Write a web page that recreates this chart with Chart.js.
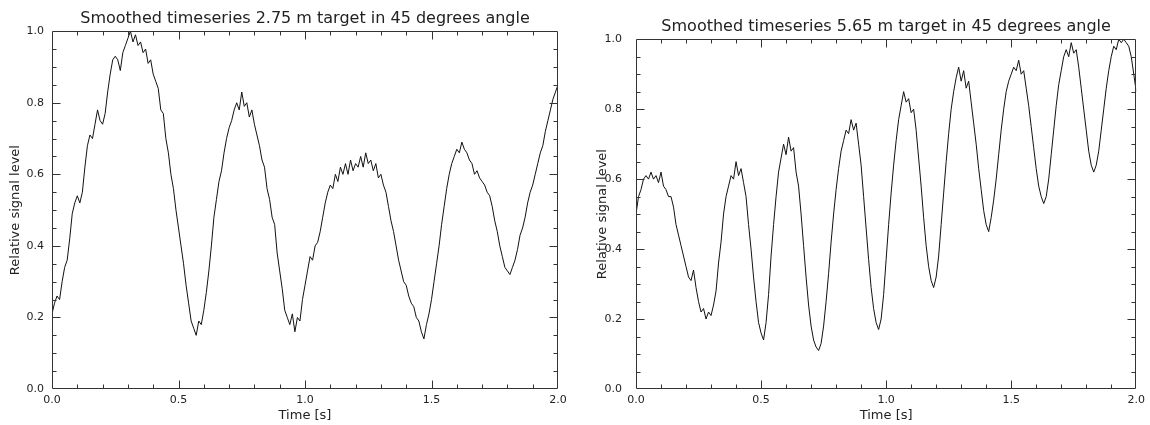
<!DOCTYPE html>
<html>
<head>
<meta charset="utf-8">
<title>Smoothed timeseries</title>
<script src="https://cdn.jsdelivr.net/npm/chart.js@4.4.1/dist/chart.umd.min.js"></script>
<style>
body { margin:0; background:#fff; }
#c1 { position:absolute; left:0; top:0; }
#c2 { position:absolute; left:575px; top:0; }
</style>
</head>
<body>
<canvas id="c1" width="575" height="425"></canvas>
<canvas id="c2" width="575" height="425"></canvas>
<script>
// sample interval of both recordings (s)
var dt = 0.01;
var xTicks = [0.0, 0.5, 1.0, 1.5, 2.0];
var yTicks = [0.0, 0.2, 0.4, 0.6, 0.8, 1.0];

// 2.75 m target
var sinal275 = [
0.21,0.24,0.26,0.25,0.30,0.34,0.36,0.42,0.49,0.52,
0.54,0.52,0.55,0.62,0.68,0.71,0.70,0.74,0.78,0.75,
0.74,0.77,0.83,0.88,0.92,0.93,0.92,0.89,0.94,0.96,
0.98,1.00,0.97,0.99,0.96,0.97,0.94,0.95,0.91,0.92,
0.88,0.86,0.84,0.78,0.77,0.70,0.66,0.60,0.56,0.50,
0.45,0.40,0.35,0.29,0.24,0.19,0.17,0.15,0.19,0.18,
0.22,0.27,0.33,0.40,0.48,0.53,0.58,0.61,0.66,0.70,
0.73,0.75,0.78,0.80,0.78,0.83,0.79,0.80,0.76,0.78,
0.74,0.71,0.68,0.64,0.62,0.56,0.53,0.48,0.46,0.38,
0.33,0.28,0.22,0.20,0.18,0.21,0.16,0.20,0.19,0.25,
0.29,0.33,0.37,0.36,0.40,0.41,0.44,0.48,0.52,0.55,
0.57,0.56,0.60,0.58,0.62,0.60,0.63,0.60,0.64,0.61,
0.63,0.62,0.65,0.62,0.66,0.63,0.64,0.61,0.63,0.59,
0.60,0.57,0.55,0.51,0.47,0.44,0.40,0.36,0.33,0.30,
0.29,0.26,0.24,0.23,0.20,0.19,0.16,0.14,0.18,0.21,
0.25,0.30,0.35,0.40,0.46,0.51,0.56,0.60,0.63,0.65,
0.67,0.66,0.69,0.67,0.66,0.64,0.63,0.60,0.61,0.59,
0.58,0.57,0.55,0.54,0.51,0.47,0.44,0.40,0.37,0.34,
0.33,0.32,0.34,0.36,0.39,0.43,0.45,0.48,0.52,0.55,
0.57,0.60,0.63,0.66,0.68,0.72,0.75,0.78,0.81,0.83,
0.85
];

// 5.65 m target
var sinal565 = [
0.50,0.55,0.57,0.60,0.61,0.60,0.62,0.60,0.61,0.59,
0.62,0.58,0.57,0.55,0.55,0.52,0.47,0.44,0.41,0.38,
0.35,0.32,0.31,0.34,0.29,0.25,0.22,0.23,0.20,0.22,
0.21,0.24,0.28,0.36,0.42,0.50,0.55,0.58,0.61,0.60,
0.65,0.61,0.63,0.59,0.55,0.47,0.40,0.32,0.25,0.19,
0.16,0.14,0.19,0.27,0.38,0.47,0.55,0.62,0.66,0.70,
0.67,0.72,0.68,0.69,0.62,0.58,0.50,0.41,0.32,0.24,
0.18,0.14,0.12,0.11,0.13,0.18,0.25,0.33,0.42,0.50,
0.57,0.63,0.68,0.71,0.74,0.73,0.77,0.74,0.76,0.70,
0.64,0.55,0.46,0.37,0.29,0.23,0.19,0.17,0.20,0.27,
0.37,0.47,0.56,0.64,0.71,0.77,0.81,0.85,0.82,0.83,
0.79,0.80,0.74,0.66,0.58,0.49,0.41,0.35,0.31,0.29,
0.32,0.38,0.47,0.56,0.65,0.73,0.80,0.85,0.89,0.92,
0.88,0.91,0.86,0.88,0.82,0.76,0.70,0.63,0.57,0.51,
0.47,0.45,0.49,0.54,0.60,0.67,0.74,0.80,0.85,0.88,
0.90,0.92,0.91,0.94,0.90,0.91,0.86,0.81,0.75,0.69,
0.63,0.58,0.55,0.53,0.55,0.60,0.67,0.74,0.81,0.87,
0.91,0.95,0.97,0.95,0.99,0.96,0.97,0.92,0.86,0.80,
0.74,0.68,0.64,0.62,0.64,0.68,0.74,0.80,0.86,0.91,
0.95,0.98,0.97,1.00,0.99,1.00,0.99,0.98,0.95,0.90,
0.85
];

var corTexto = '#222';
var fonte = 'DejaVu Sans';

function pontos(valores) {
  var p = [];
  for (var i = 0; i < valores.length; i++) {
    p.push({ x: i * dt, y: valores[i] });
  }
  return p;
}

// IDL style box with inward ticks on all four sides
var moldura = {
  id: 'moldura',
  afterDatasetsDraw: function(chart) {
    var ctx = chart.ctx;
    var a = chart.chartArea;
    var sx = chart.scales.x, sy = chart.scales.y;
    var L = Math.round(a.left) + 0.5, R = Math.round(a.right) - 0.5;
    var T = Math.round(a.top) + 0.5, B = Math.round(a.bottom) - 0.5;
    ctx.save();
    ctx.strokeStyle = '#333';
    ctx.lineWidth = 1;
    ctx.beginPath();
    ctx.rect(L, T, R - L, B - T);
    for (var i = 1; i < 20; i++) {
      var px = Math.round(sx.getPixelForValue(i / 10)) + 0.5;
      var len = (i % 5 == 0) ? 8 : 4;
      ctx.moveTo(px, B); ctx.lineTo(px, B - len);
      ctx.moveTo(px, T); ctx.lineTo(px, T + len);
    }
    for (var j = 1; j < 20; j++) {
      var py = Math.round(sy.getPixelForValue(j / 20)) + 0.5;
      var len2 = (j % 4 == 0) ? 8 : 4;
      ctx.moveTo(L, py); ctx.lineTo(L + len2, py);
      ctx.moveTo(R, py); ctx.lineTo(R - len2, py);
    }
    ctx.stroke();
    ctx.restore();
  }
};

function grafico(id, titulo, valores, cfg) {
  var ctx = document.getElementById(id).getContext('2d');
  return new Chart(ctx, {
    type: 'line',
    data: {
      datasets: [{
        data: pontos(valores),
        borderColor: '#111',
        borderWidth: 1,
        pointRadius: 0,
        tension: 0,
        fill: false
      }]
    },
    options: {
      responsive: false,
      animation: false,
      devicePixelRatio: 1,
      layout: { padding: { left: 0, right: cfg.padDir, top: 0, bottom: 0 } },
      plugins: {
        legend: { display: false },
        tooltip: { enabled: false },
        title: {
          display: true,
          text: titulo,
          fullSize: false,
          color: corTexto,
          font: { family: fonte, size: 16, weight: 'normal', lineHeight: 1.2 },
          padding: { top: cfg.tituloTopo, bottom: 3 }
        }
      },
      scales: {
        x: {
          type: 'linear',
          min: 0,
          max: 2,
          afterBuildTicks: function(s) { s.ticks = xTicks.map(function(v) { return { value: v }; }); },
          afterFit: function(s) { s.height = 36; },
          grid: { display: false, drawTicks: false },
          border: { display: false },
          ticks: {
            color: corTexto,
            padding: 5,
            maxRotation: 0,
            font: { family: fonte, size: 11 },
            callback: function(v) { return v.toFixed(1); }
          },
          title: {
            display: true,
            text: 'Time [s]',
            color: corTexto,
            font: { family: fonte, size: 13 },
            padding: { top: 0, bottom: 2 }
          }
        },
        y: {
          min: 0,
          max: 1,
          afterBuildTicks: function(s) { s.ticks = yTicks.map(function(v) { return { value: v }; }); },
          afterFit: function(s) { s.width = cfg.larguraY; },
          grid: { display: false, drawTicks: false },
          border: { display: false },
          ticks: {
            color: corTexto,
            padding: cfg.padRotulo,
            font: { family: fonte, size: 11 },
            callback: function(v) { return v.toFixed(1); }
          },
          title: {
            display: true,
            text: 'Relative signal level',
            color: corTexto,
            font: { family: fonte, size: 13 },
            padding: { top: cfg.tituloY, bottom: 0 }
          }
        }
      }
    },
    plugins: [moldura]
  });
}

grafico('c1', 'Smoothed timeseries 2.75 m target in 45 degrees angle', sinal275,
  { padDir: 17, tituloTopo: 9, larguraY: 52, padRotulo: 8, tituloY: 8 });
grafico('c2', 'Smoothed timeseries 5.65 m target in 45 degrees angle', sinal565,
  { padDir: 10, tituloTopo: 17, larguraY: 61, padRotulo: 14, tituloY: 20 });
</script>
</body>
</html>
